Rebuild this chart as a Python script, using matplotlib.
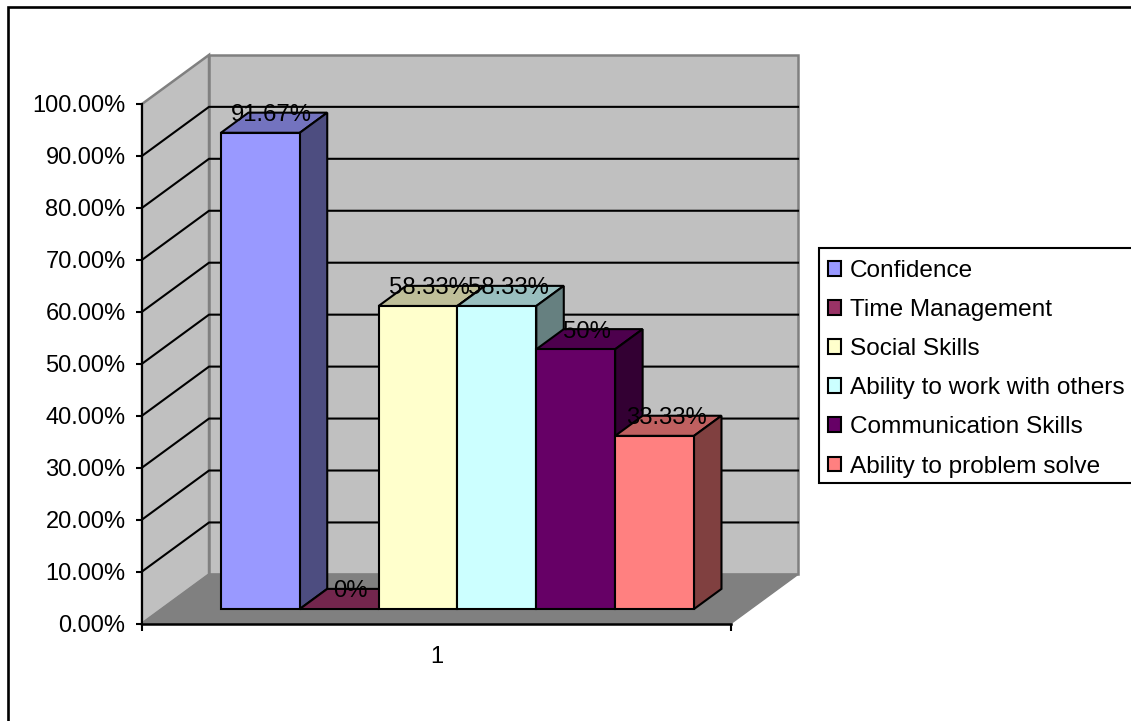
import matplotlib
matplotlib.use("Agg")
from matplotlib import pyplot as plt
from matplotlib.patches import Patch, Polygon, Rectangle
from matplotlib.colors import to_rgb

plt.rcParams['font.family'] = ['Liberation Sans', 'DejaVu Sans']

##### Chart data
skills = ['Confidence', 'Time Management', 'Social Skills',
          'Ability to work with others', 'Communication Skills',
          'Ability to problem solve']
percents = [91.67, 0, 58.33, 58.33, 50, 33.33]
value_labels = ['91.67%', '0%', '58.33%', '58.33%', '50%', '33.33%']
colors = ['#9999FF', '#993366', '#FFFFCC', '#CCFFFF', '#660066', '#FF8080']
y_ticks = [0, 10, 20, 30, 40, 50, 60, 70, 80, 90, 100]

W, H = 1131, 721
FONT = 17.6
TICK_FONT = 17.0
VALUE_FONT = 17.2
LINE = 1.5

# oblique projection, in data units: one bar is 1 wide, y is in percent
DX = 0.85
DY = 9.45
BAR_START = 0.295   # how far into the floor the bars sit
BAR_DEPTH = 0.41
X0, X1 = -0.75, 6.72


def shade(color, k):
    return tuple(c * k for c in to_rgb(color))


def project(x, y, d):
    # d is 0 at the front of the floor and 1 at the back wall
    return (x + DX * d, y + DY * d)


fig = plt.figure(figsize=(W / 100, H / 100), dpi=100)
ax = fig.add_axes([142 / W, 1 - 623.5 / H, 589 / W, 519.5 / H])
ax.set_xlim(X0, X1)
ax.set_ylim(0, 100)
ax.patch.set_visible(False)

# outer chart border runs off the right and bottom of the figure
fig.add_artist(Rectangle((8 / W, -0.05), 1.1, 1.05 - 7.5 / H, fill=False, ec='black',
                         lw=1.9, transform=fig.transFigure, zorder=-1))

##### Walls and floor
side_wall = [project(X0, 0, 0), project(X0, 100, 0), project(X0, 100, 1), project(X0, 0, 1)]
back_wall = [project(X0, 0, 1), project(X0, 100, 1), project(X1, 100, 1), project(X1, 0, 1)]
floor = [project(X0, 0, 0), project(X1, 0, 0), project(X1, 0, 1), project(X0, 0, 1)]
ax.add_patch(Polygon(side_wall, fc='#C0C0C0', ec='#808080', lw=1.8, clip_on=False, zorder=1))
ax.add_patch(Polygon(back_wall, fc='#C0C0C0', ec='#808080', lw=1.8, clip_on=False, zorder=1))
ax.add_patch(Polygon(floor, fc='#808080', ec='#808080', lw=1, clip_on=False, zorder=1.1))

##### Gridlines bend around the corner of the walls
for t in y_ticks[1:-1]:
    xs, ys = zip(project(X0, t, 0), project(X0, t, 1), project(X1, t, 1))
    ax.plot(xs, ys, color='black', lw=LINE, clip_on=False, zorder=1.5)

##### 3D bars, left to right so the next bar covers the last one's side
d0 = BAR_START
d1 = BAR_START + BAR_DEPTH
for i, (p, c) in enumerate(zip(percents, colors)):
    x0, x1 = i, i + 1
    z = 3 + i * 0.1
    top = [project(x0, p, d0), project(x1, p, d0), project(x1, p, d1), project(x0, p, d1)]
    ax.add_patch(Polygon(top, fc=shade(c, 0.75), ec='black', lw=LINE, clip_on=False, zorder=z))
    if p > 0:
        front = [project(x0, 0, d0), project(x1, 0, d0), project(x1, p, d0), project(x0, p, d0)]
        side = [project(x1, 0, d0), project(x1, 0, d1), project(x1, p, d1), project(x1, p, d0)]
        ax.add_patch(Polygon(side, fc=shade(c, 0.5), ec='black', lw=LINE, clip_on=False, zorder=z))
        ax.add_patch(Polygon(front, fc=c, ec='black', lw=LINE, clip_on=False, zorder=z))

##### Value labels sit just above the middle of each top face
for i, (p, label) in enumerate(zip(percents, value_labels)):
    xc, yc = project(i + 0.5, p, d0 + BAR_DEPTH / 2)
    ax.annotate(label, (xc, yc), xytext=(-1.7, 5.5), textcoords='offset points',
                ha='center', va='center', fontsize=VALUE_FONT, color='black',
                annotation_clip=False, zorder=6)

##### Axes
for name in ['top', 'right']:
    ax.spines[name].set_visible(False)
ax.spines['left'].set_linewidth(LINE)
ax.spines['bottom'].set_linewidth(1.8)
ax.set_yticks(y_ticks)
ax.set_yticklabels(['%.2f%%' % t for t in y_ticks], fontsize=TICK_FONT)
ax.tick_params(axis='y', length=4.5, width=LINE, pad=7.3)
ax.set_xticks([X0, X1])
ax.set_xticklabels(['', ''])
ax.tick_params(axis='x', which='major', length=5, width=LINE)
ax.set_xticks([(X0 + X1) / 2], minor=True)
ax.set_xticklabels(['1'], minor=True, fontsize=TICK_FONT)
ax.tick_params(axis='x', which='minor', length=0, pad=16.5)

##### Legend, its box also runs off the right edge
fig.add_artist(Rectangle((819 / W, 1 - 483 / H), 1, 235.5 / H, fc='white', ec='black',
                         lw=LINE, transform=fig.transFigure, zorder=-1))
handles = [Patch(fc=c, ec='black', lw=LINE, label=s) for s, c in zip(skills, colors)]
ax.legend(handles=handles, loc='upper left', frameon=False,
          bbox_to_anchor=(828 / W, 1 - 260 / H),
          bbox_transform=fig.transFigure, borderaxespad=0, fontsize=FONT, borderpad=0,
          labelspacing=0.7, handlelength=0.55, handleheight=0.55, handletextpad=0.33)
ax.get_legend().set_zorder(7)

plt.savefig('out.png', dpi=100)
